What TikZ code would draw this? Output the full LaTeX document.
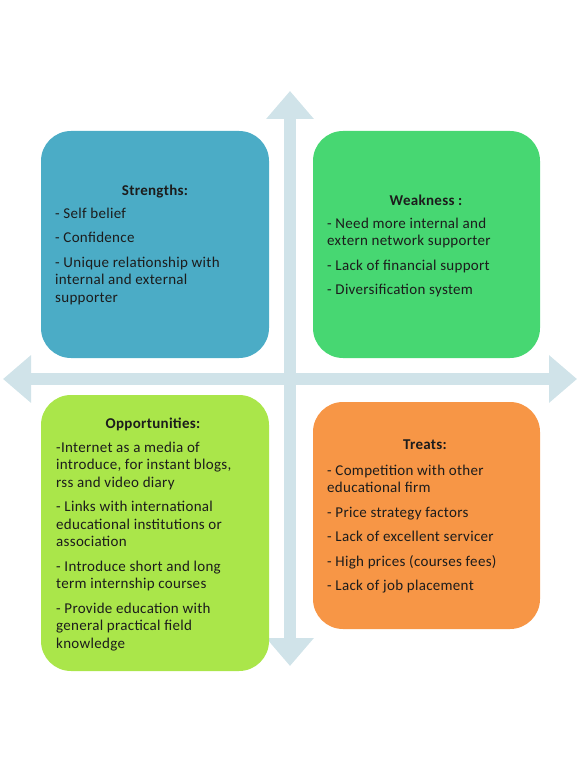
\documentclass[tikz,border=0pt]{standalone}
\usepackage{fontspec}
\setmainfont{Carlito}
\newfontfamily\swotfont[LetterSpace=2]{Carlito}
\usetikzlibrary{arrows.meta}

\definecolor{axiscol}{RGB}{208,227,233}
\definecolor{strcol}{RGB}{75,172,198}
\definecolor{weacol}{RGB}{71,215,114}
\definecolor{oppcol}{RGB}{170,230,74}
\definecolor{thrcol}{RGB}{247,150,70}
\definecolor{txtcol}{RGB}{28,28,28}

\tikzset{
  swot/.style={rounded corners=30pt, inner sep=0pt, minimum width=227pt, minimum height=227pt},
  head/.style={anchor=base, inner sep=0pt, text=txtcol, font=\swotfont\fontsize{15}{17.5}\selectfont\bfseries},
  items/.style={anchor=north west, inner sep=0pt, align=left, text=txtcol, font=\swotfont\fontsize{15}{17.5}\selectfont},
  axis/.style={draw=axiscol, line width=12pt, >={Triangle[width=46pt,length=28pt]}, <->}
}

\begin{document}
\begin{tikzpicture}[x=1pt,y=-1pt]
\useasboundingbox (0,0) rectangle (580,759);

% axes
\coordinate (top) at (290,91);
\coordinate (bot) at (290,666);
\coordinate (lft) at (3,379);
\coordinate (rgt) at (577,379);
\draw[axis] (top) -- (bot);
\draw[axis] (lft) -- (rgt);

% quadrants
\node[swot, fill=strcol, minimum width=228pt] (str) at (155,244.5) {};
\node[swot, fill=weacol] (wea) at (426.5,244.5) {};
\node[swot, fill=oppcol, minimum width=228pt, minimum height=276pt] (opp) at (155,533) {};
\node[swot, fill=thrcol] (thr) at (426.5,515.5) {};

\node[head] (strhead) at (155,196) {Strengths:};
\node[items] (strlist) at (55,207.5) {- Self belief\\[7pt]
  - Confidence\\[7pt]
  - Unique relationship with\\internal and external\\supporter};

\node[head] (weahead) at (426,205.5) {Weakness :};
\node[items] (wealist) at (327,217.5) {- Need more internal and\\extern network supporter\\[7pt]
  - Lack of financial support\\[7pt]
  - Diversification system};

\node[head] (opphead) at (153,428) {Opportunities:};
\node[items] (opplist) at (56,441.5) {-Internet as a media of\\introduce, for instant blogs,\\rss and video diary\\[7pt]
  - Links with international\\educational institutions or\\association\\[7pt]
  - Introduce short and long\\term internship courses\\[7pt]
  - Provide education with\\general practical field\\knowledge};

\node[head] (thrhead) at (425,449) {Treats:};
\node[items] (thrlist) at (327,464.5) {- Competition with other\\educational firm\\[7pt]
  - Price strategy factors\\[7pt]
  - Lack of excellent servicer\\[7pt]
  - High prices (courses fees)\\[7pt]
  - Lack of job placement};
\end{tikzpicture}
\end{document}
